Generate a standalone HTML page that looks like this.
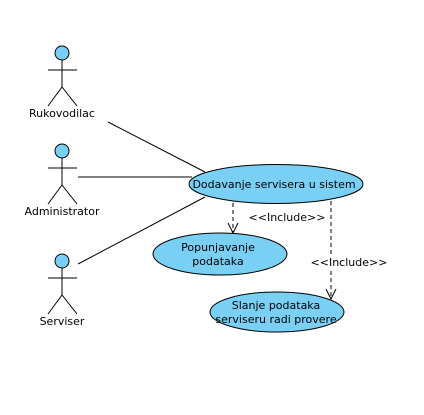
<!DOCTYPE html>
<html><head><style>body{margin:0;background:#fff}</style></head><body>
<svg width="424" height="410" xmlns="http://www.w3.org/2000/svg" font-family="DejaVu Sans, sans-serif" font-size="11" fill="#000">
<g stroke="#000" stroke-width="1" fill="none">
<circle cx="62" cy="53" r="7" fill="#7acff5"/>
<line x1="62" y1="60" x2="62" y2="87"/><line x1="48" y1="70" x2="77" y2="70"/>
<line x1="62" y1="87" x2="48" y2="106"/><line x1="62" y1="87" x2="77" y2="106"/>
<circle cx="62" cy="151" r="7" fill="#7acff5"/>
<line x1="62" y1="158" x2="62" y2="185"/><line x1="48" y1="168" x2="77" y2="168"/>
<line x1="62" y1="185" x2="48" y2="204"/><line x1="62" y1="185" x2="77" y2="204"/>
<circle cx="62" cy="261" r="7" fill="#7acff5"/>
<line x1="62" y1="268" x2="62" y2="295"/><line x1="48" y1="278" x2="77" y2="278"/>
<line x1="62" y1="295" x2="48" y2="314"/><line x1="62" y1="295" x2="77" y2="314"/>
<line x1="108" y1="122" x2="205" y2="172"/>
<line x1="78" y1="177" x2="192" y2="177"/>
<line x1="78" y1="264" x2="205" y2="197"/>
<ellipse cx="276" cy="184" rx="87" ry="19.5" fill="#7acff5"/>
<ellipse cx="220" cy="254" rx="67" ry="21" fill="#7acff5"/>
<ellipse cx="277" cy="312" rx="67" ry="20" fill="#7acff5"/>
<line x1="233" y1="203" x2="233" y2="233" stroke-dasharray="4,3"/>
<polyline points="228,223 233,233 238,223"/>
<line x1="331" y1="201" x2="331" y2="299" stroke-dasharray="4,3"/>
<polyline points="326,289 331,299 336,289"/>
</g>
<rect x="311" y="255" width="77" height="14" fill="#fff"/>
<g text-anchor="middle">
<text x="62" y="117">Rukovodilac</text>
<text x="62" y="215">Administrator</text>
<text x="62" y="325">Serviser</text>
<text x="274" y="188">Dodavanje servisera u sistem</text>
<text x="218" y="251">Popunjavanje</text>
<text x="218" y="265">podataka</text>
<text x="276" y="309">Slanje podataka</text>
<text x="276" y="323">serviseru radi provere</text>
<text x="287" y="221">&lt;&lt;Include&gt;&gt;</text>
<text x="349" y="266">&lt;&lt;Include&gt;&gt;</text>
</g>
</svg>
</body></html>
